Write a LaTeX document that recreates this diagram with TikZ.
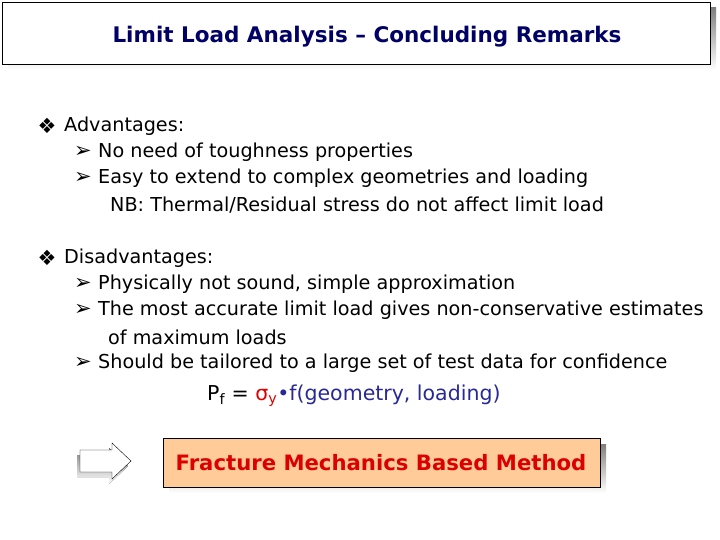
\documentclass[tikz,border=0pt]{standalone}
\usepackage{fontspec}
\setmainfont{DejaVu Sans}
\definecolor{navy}{RGB}{0,0,102}
\definecolor{fblue}{RGB}{40,40,150}
\definecolor{fred}{RGB}{220,0,0}
\definecolor{peach}{RGB}{255,204,153}
\definecolor{shade}{RGB}{128,128,128}
\begin{document}
\begin{tikzpicture}[x=1pt,y=-1pt,
  txt/.style={anchor=west,inner sep=0pt,font=\fontsize{19.2}{22}\selectfont},
  bul/.style={anchor=center,inner sep=0pt,font=\fontsize{21}{24}\selectfont}]
\useasboundingbox (0,0) rectangle (720,540);
% title
\fill[shade] (8,8) rectangle (716,70);
\node[draw=black,fill=white,minimum width=708pt,minimum height=62pt,anchor=north west,inner sep=0pt] (title) at (2,2) {};
\node[font=\fontsize{21.5}{24}\selectfont\bfseries,text=navy] (tt) at (367,37) {Limit Load Analysis – Concluding Remarks};
% lists
\node[bul] (b0) at (47,126) {❖};
\node[txt] (a0) at (64,126) {Advantages:};
\node[bul] (b1) at (83,152) {➢};
\node[txt] (a1) at (98,152) {No need of toughness properties};
\node[bul] (b2) at (83,178) {➢};
\node[txt] (a2) at (98,178) {Easy to extend to complex geometries and loading};
\node[txt] (a3) at (110,205) {NB: Thermal/Residual stress do not affect limit load};
\node[bul] (b3) at (47,258) {❖};
\node[txt] (d0) at (64,258) {Disadvantages:};
\node[bul] (b4) at (83,284) {➢};
\node[txt] (d1) at (98,284) {Physically not sound, simple approximation};
\node[bul] (b5) at (83,310) {➢};
\node[txt] (d2) at (98,310) {The most accurate limit load gives non-conservative estimates};
\node[txt] (d3) at (108,337) {of maximum loads};
\node[bul] (b6) at (83,363) {➢};
\node[txt] (d4) at (98,363) {Should be tailored to a large set of test data for confidence};
% formula
\node[txt,font=\fontsize{20.5}{24}\selectfont] (f) at (207,396) {P\textsubscript{f} = \textcolor{fred}{σ\textsubscript{y}}\textcolor{fblue}{•f(geometry, loading)}};
% arrow
\fill[shade,shift={(-3,5)}] (80,450) -- (112,450) -- (112,443) -- (131,461) -- (112,479) -- (112,472) -- (80,472) -- cycle;
\draw[black,fill=white] (80,450) -- (112,450) -- (112,443) -- (131,461) -- (112,479) -- (112,472) -- (80,472) -- cycle;
\coordinate (ar) at (105,461);
% result box
\fill[shade] (169,444) rectangle (606,493);
\node[draw=black,fill=peach,minimum width=437pt,minimum height=49pt,anchor=north west,inner sep=0pt] (box) at (163,438) {};
\node[font=\fontsize{21.2}{24}\selectfont\bfseries,text=fred] (bt) at (381,463) {Fracture Mechanics Based Method};
\end{tikzpicture}
\end{document}
